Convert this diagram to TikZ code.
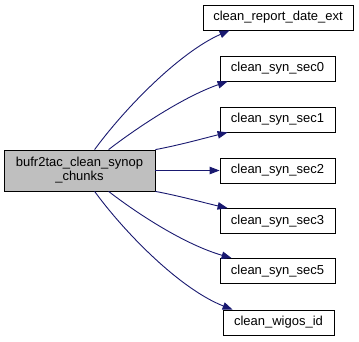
\documentclass[tikz,border=0pt]{standalone}
\usepackage{fontspec}
\setmainfont{Liberation Sans}
\usetikzlibrary{arrows.meta}
\definecolor{edgeblue}{HTML}{191970}
\definecolor{rootfill}{HTML}{BFBFBF}
\tikzset{
  fn/.style={draw=black, line width=0.8pt, fill=white, rectangle,
    minimum height=25pt, inner xsep=0pt, inner ysep=0pt,
    font=\fontsize{13}{15}\selectfont},
  rootfn/.style={fn, fill=rootfill, minimum width=151pt, minimum height=41pt,
    align=center, font=\fontsize{13}{14}\selectfont},
  call/.style={draw=edgeblue, line width=0.9pt,
    -{Triangle[length=10pt,width=7.5pt,fill=edgeblue]}}
}
\begin{document}
\begin{tikzpicture}[x=1pt,y=-1pt]
  \useasboundingbox (0,0) rectangle (359,341);

  % caller
  \node[rootfn] (main) at (79.5,170.5) {bufr2tac\_clean\_synop\\\_chunks};

  % callees
  \node[fn, minimum width=150pt] (report) at (278,17.5)  {clean\_report\_date\_ext};
  \node[fn, minimum width=115pt] (sec0)   at (277.5,68.5) {clean\_syn\_sec0};
  \node[fn, minimum width=115pt] (sec1)   at (277.5,119.5){clean\_syn\_sec1};
  \node[fn, minimum width=115pt] (sec2)   at (277.5,170.5){clean\_syn\_sec2};
  \node[fn, minimum width=115pt] (sec3)   at (277.5,221)  {clean\_syn\_sec3};
  \node[fn, minimum width=115pt] (sec5)   at (277.5,271)  {clean\_syn\_sec5};
  \node[fn, minimum width=111pt] (wigos)  at (278.5,322.5){clean\_wigos\_id};

  % calls
  \draw[call] ([xshift=91pt]main.north west) .. controls (125,108) and (180,52) .. ([xshift=27pt]report.south west);
  \draw[call] ([xshift=105pt]main.north west) .. controls (130,133) and (180,98) .. ([xshift=8pt]sec0.south west);
  \draw[call] (main.north east) .. controls (180,145) and (205,138) .. ([xshift=8pt]sec1.south west);
  \draw[call] (main.east) -- (sec2.west);
  \draw[call] (main.south east) .. controls (180,196) and (205,203) .. ([xshift=8pt]sec3.north west);
  \draw[call] ([xshift=105pt]main.south west) .. controls (130,208) and (180,243) .. ([xshift=12pt]sec5.north west);
  \draw[call] ([xshift=91pt]main.south west) .. controls (125,233) and (180,289) .. ([xshift=10pt]wigos.north west);
\end{tikzpicture}
\end{document}
